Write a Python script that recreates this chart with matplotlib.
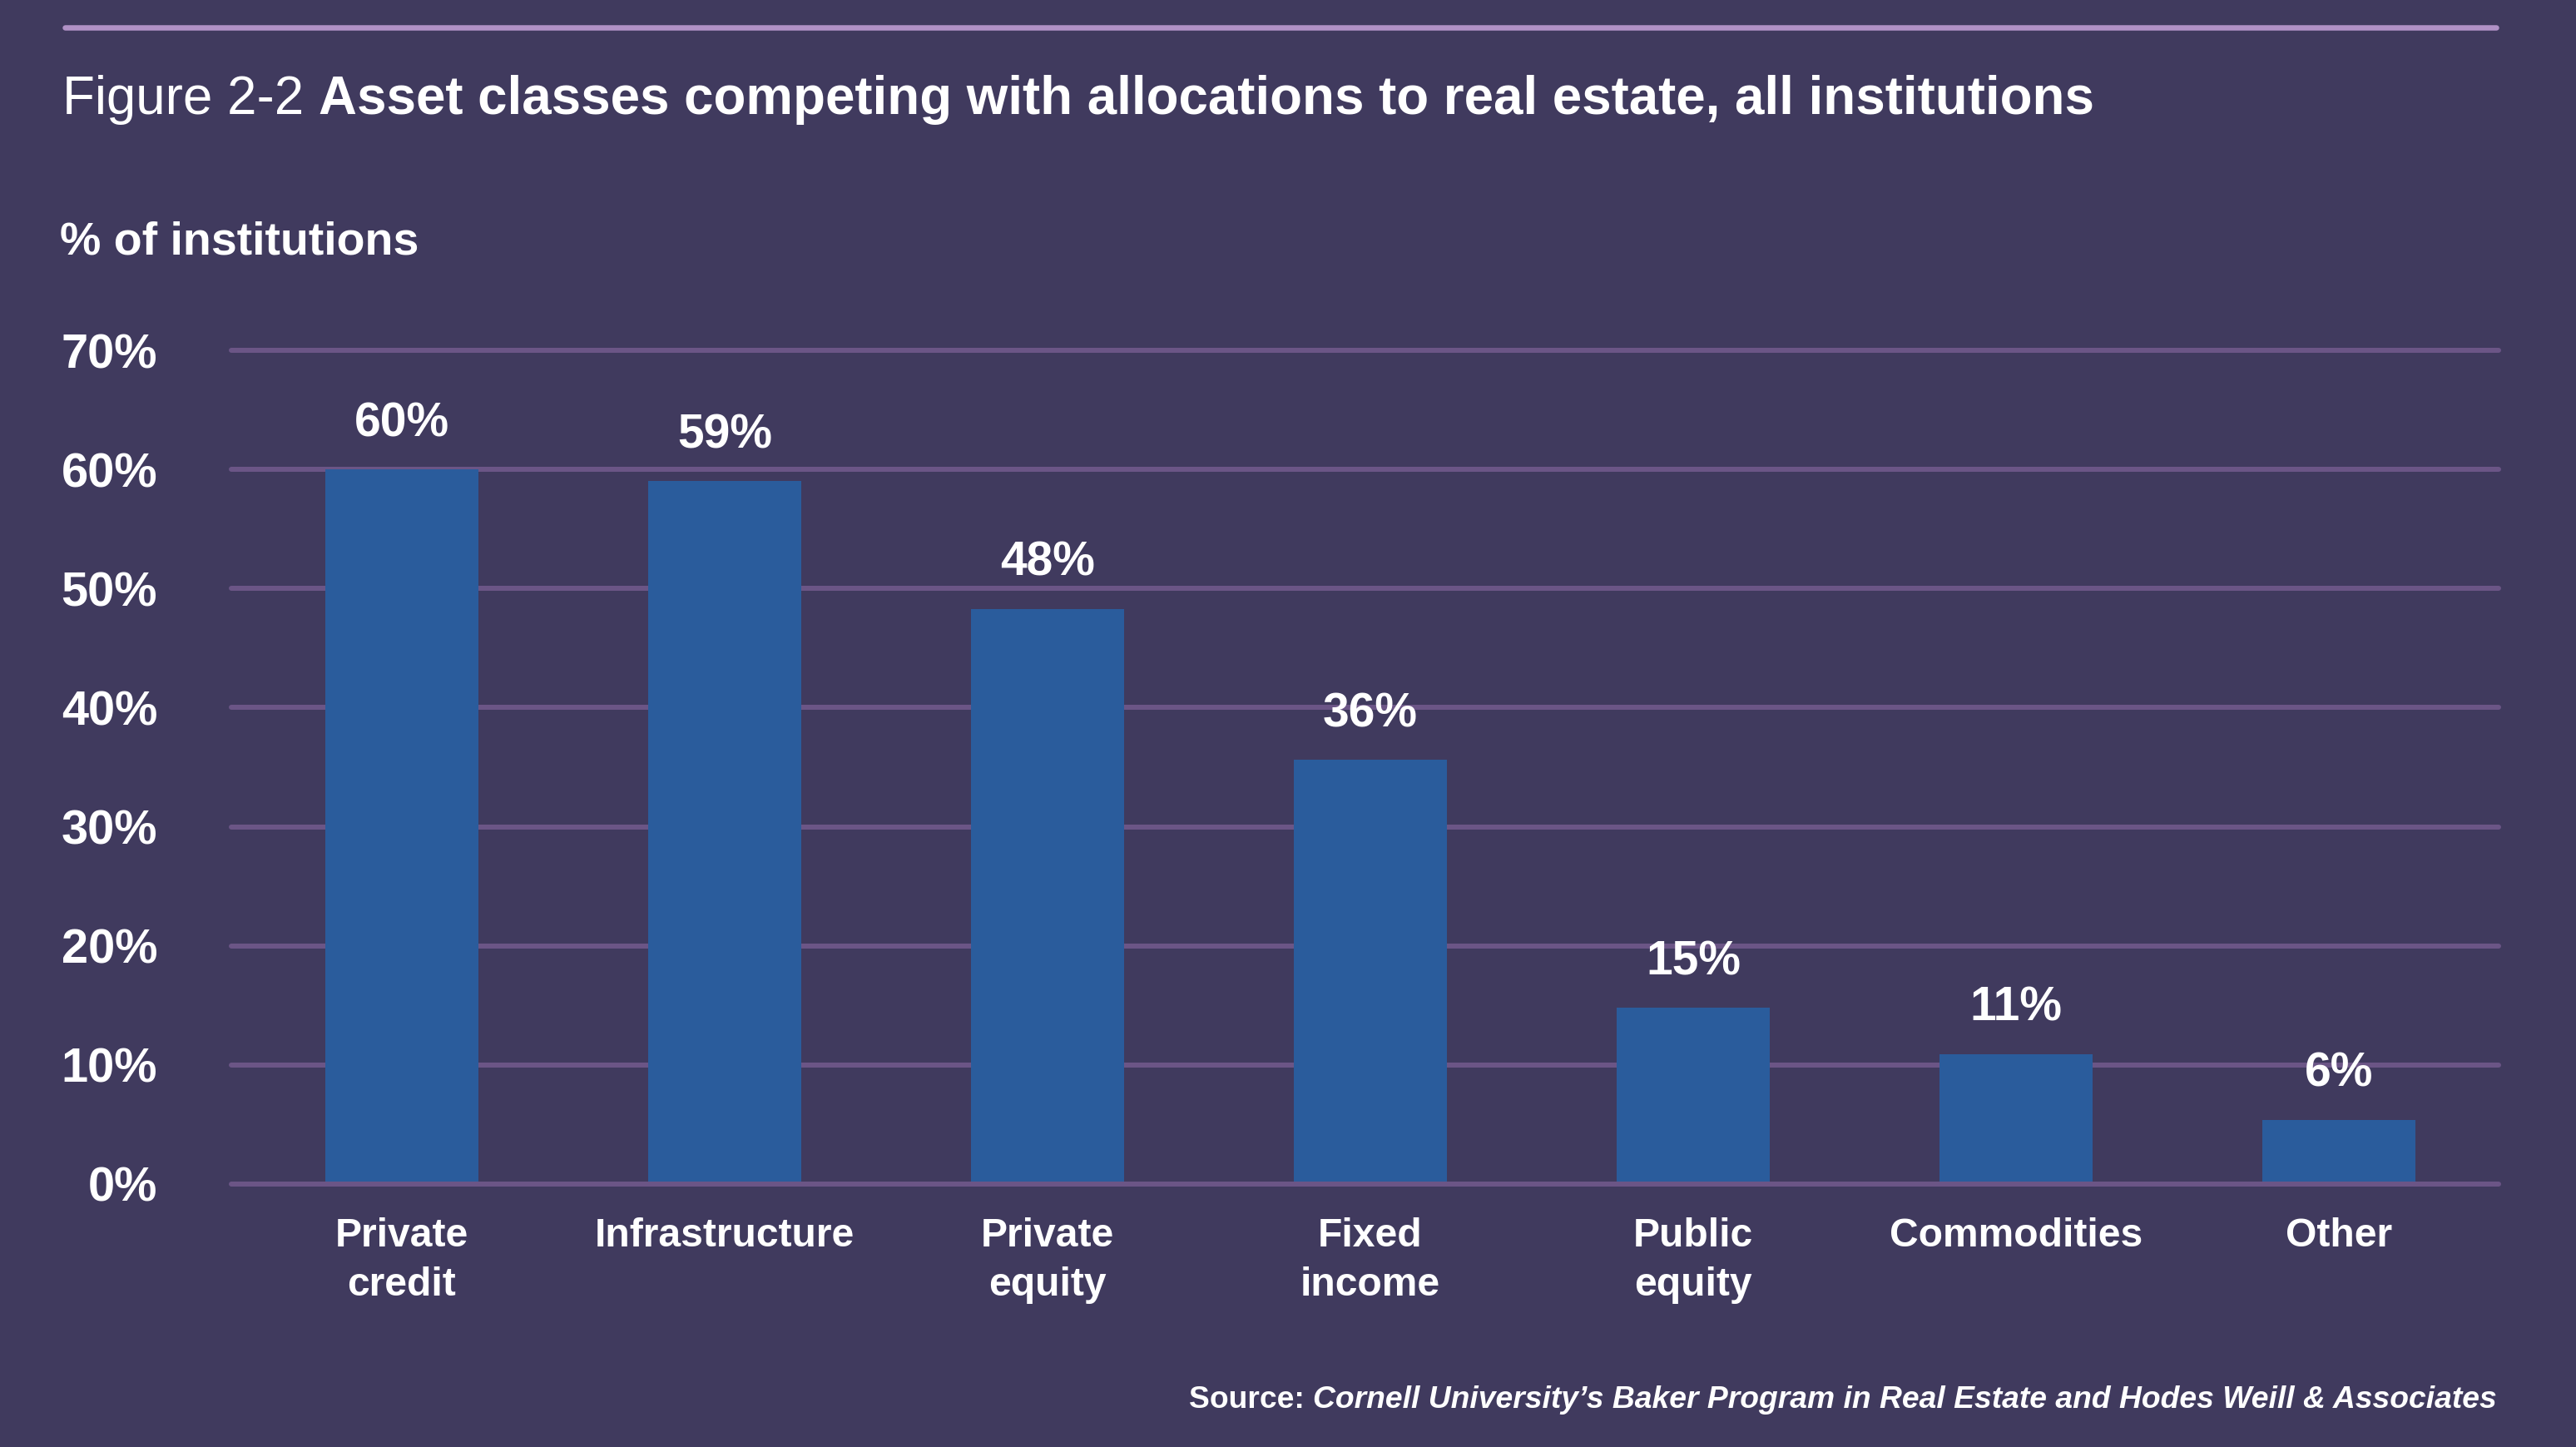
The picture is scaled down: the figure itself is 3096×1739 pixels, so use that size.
import matplotlib
matplotlib.use("Agg")
import matplotlib.pyplot as plt

# ---- data ----
categories = ["Private\ncredit", "Infrastructure", "Private\nequity", "Fixed\nincome",
              "Public\nequity", "Commodities", "Other"]
values = [60.0, 59.0, 48.3, 35.6, 14.8, 10.9, 5.4]
value_labels = ["60%", "59%", "48%", "36%", "15%", "11%", "6%"]
y_ticks = [0, 10, 20, 30, 40, 50, 60, 70]
y_tick_labels = ["0%", "10%", "20%", "30%", "40%", "50%", "60%", "70%"]

title_regular = "Figure 2-2 "
title_bold = "Asset classes competing with allocations to real estate, all institutions"
y_label = "% of institutions"
source_lead = "Source: "
source_text = "Cornell University\u2019s Baker Program in Real Estate and Hodes Weill & Associates"

# ---- style ----
BG = "#403a5e"
BAR = "#2a5c9c"
GRID = "#6b5586"
TOPLINE = "#b191c6"
WHITE = "#ffffff"
FONT = ["Liberation Sans", "DejaVu Sans"]
plt.rcParams["font.family"] = FONT

W, H, DPI = 3096, 1739, 200
fig = plt.figure(figsize=(W / DPI, H / DPI), dpi=DPI, facecolor=BG)

def fx(px):
    return px / W

def fy(py):
    return 1 - py / H

ax_left, ax_right = 278, 3003
ax_top, ax_bottom = 421, 1423
ax = fig.add_axes([fx(ax_left), fy(ax_bottom), fx(ax_right - ax_left), (ax_bottom - ax_top) / H])
ax.set_facecolor(BG)
for s in ax.spines.values():
    s.set_visible(False)

x = list(range(len(categories)))
ax.set_xlim(-0.528, 6.495)
ax.set_ylim(0, 70)

lw_grid = 6 * 72 / DPI
for t in y_ticks:
    ax.axhline(t, color=GRID, lw=lw_grid, solid_capstyle="round",
               zorder=3 if t == 0 else 1, clip_on=False)

ax.bar(x, values, width=0.475, color=BAR, zorder=2)

for xi, v, lab in zip(x, values, value_labels):
    ax.annotate(lab, (xi, v), xytext=(0, 19.8), textcoords="offset points",
                ha="center", va="center", color=WHITE, fontsize=20.5, fontweight="bold")

ax.set_yticks(y_ticks)
ax.set_yticklabels(y_tick_labels, fontsize=20.8, fontweight="bold", color=WHITE)
ax.set_xticks(x)
ax.set_xticklabels(categories, fontsize=17.3, fontweight="bold", color=WHITE, linespacing=1.4)
ax.tick_params(axis="y", length=0, pad=32)
ax.tick_params(axis="x", length=0, pad=14.5)

# top decorative line
fig.add_artist(plt.Line2D([fx(78), fx(3000)], [fy(33), fy(33)], color=TOPLINE,
                          lw=6.5 * 72 / DPI, solid_capstyle="round"))

# title (regular + bold)
t1 = fig.text(fx(75), fy(137), title_regular, fontsize=22.9, color=WHITE, va="baseline", ha="left")
fig.canvas.draw()
r = fig.canvas.get_renderer()
bb = t1.get_window_extent(renderer=r)
fig.text(bb.x1 / W, fy(137), title_bold, fontsize=22.9, fontweight="bold", color=WHITE,
         va="baseline", ha="left")

# y label
fig.text(fx(72), fy(306), y_label, fontsize=20, fontweight="bold", color=WHITE,
         va="baseline", ha="left")

# source
s2 = fig.text(fx(3001), fy(1692), source_text, fontsize=13.4, fontweight="bold", fontstyle="italic",
              color=WHITE, va="baseline", ha="right")
fig.canvas.draw()
bb2 = s2.get_window_extent(renderer=r)
fig.text(bb2.x0 / W, fy(1692), source_lead, fontsize=13.4, fontweight="bold", color=WHITE,
         va="baseline", ha="right")

fig.savefig("out.png", dpi=DPI, facecolor=BG)
